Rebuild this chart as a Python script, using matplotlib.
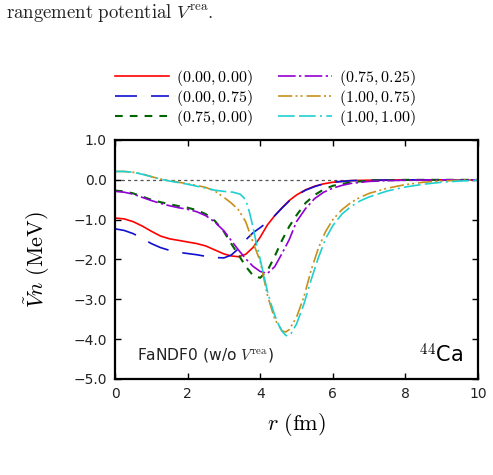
import matplotlib
matplotlib.use("Agg")
import matplotlib.pyplot as plt

plt.rcParams['mathtext.fontset'] = 'cm'
plt.rcParams['font.family'] = ['DejaVu Sans']

# ---------------- data ----------------
r_red = [0, 0.25, 0.5, 0.75, 1.0, 1.25, 1.5, 1.75, 2.0, 2.25, 2.5, 2.75, 3.0, 3.2, 3.4, 3.6, 3.8,
         4.0, 4.2, 4.4, 4.6, 4.8, 5.0, 5.25, 5.5, 5.75, 6.0, 6.5, 7.0, 8.0, 9.0, 10.0]
v_red = [-0.96, -0.98, -1.05, -1.16, -1.29, -1.41, -1.48, -1.52, -1.56, -1.60, -1.66, -1.76, -1.86,
         -1.91, -1.93, -1.87, -1.70, -1.44, -1.13, -0.90, -0.70, -0.52, -0.38, -0.25, -0.16, -0.10,
         -0.06, -0.02, -0.01, 0.0, 0.0, 0.0]

r_blue = [0, 0.25, 0.5, 0.75, 1.0, 1.25, 1.5, 1.75, 2.0, 2.25, 2.5, 2.75, 3.0, 3.2, 3.4, 3.6, 3.8,
          4.0, 4.2, 4.4, 4.6, 4.8, 5.0, 5.25, 5.5, 5.75, 6.0, 6.5, 7.0, 8.0, 9.0, 10.0]
v_blue = [-1.23, -1.27, -1.35, -1.47, -1.60, -1.70, -1.77, -1.82, -1.85, -1.88, -1.92, -1.95, -1.96,
          -1.89, -1.73, -1.51, -1.33, -1.20, -1.06, -0.90, -0.71, -0.53, -0.39, -0.26, -0.17, -0.10,
          -0.06, -0.02, -0.01, 0.0, 0.0, 0.0]

r_green = [0, 0.25, 0.5, 0.75, 1.0, 1.25, 1.5, 1.75, 2.0, 2.25, 2.5, 2.75, 3.0, 3.2, 3.4, 3.6, 3.8,
           4.0, 4.2, 4.4, 4.6, 4.8, 5.0, 5.25, 5.5, 5.75, 6.0, 6.5, 7.0, 7.5, 8.0, 10.0]
v_green = [-0.27, -0.29, -0.34, -0.42, -0.50, -0.56, -0.61, -0.66, -0.70, -0.76, -0.86, -1.03, -1.30,
           -1.60, -1.88, -2.17, -2.40, -2.46, -2.28, -1.92, -1.52, -1.17, -0.89, -0.58, -0.38, -0.24,
           -0.15, -0.06, -0.02, -0.01, 0.0, 0.0]

r_purple = [0, 0.25, 0.5, 0.75, 1.0, 1.25, 1.5, 1.75, 2.0, 2.25, 2.5, 2.75, 3.0, 3.2, 3.4, 3.6, 3.8,
            4.0, 4.2, 4.4, 4.6, 4.8, 5.0, 5.25, 5.5, 5.75, 6.0, 6.25, 6.5, 7.0, 7.5, 8.0, 9.0, 10.0]
v_purple = [-0.29, -0.31, -0.36, -0.44, -0.52, -0.59, -0.65, -0.70, -0.74, -0.80, -0.90, -1.06, -1.28,
            -1.52, -1.76, -1.98, -2.17, -2.30, -2.35, -2.18, -1.85, -1.50, -1.05, -0.72, -0.47, -0.31,
            -0.21, -0.14, -0.09, -0.04, -0.02, -0.01, 0.0, 0.0]

r_gold = [0, 0.25, 0.5, 0.75, 1.0, 1.25, 1.5, 1.75, 2.0, 2.25, 2.5, 2.75, 3.0, 3.2, 3.4, 3.6, 3.8,
          4.0, 4.2, 4.4, 4.6, 4.7, 4.8, 5.0, 5.2, 5.4, 5.6, 5.8, 6.0, 6.25, 6.5, 6.75, 7.0, 7.5,
          8.0, 8.5, 9.0, 9.5, 10.0]
v_gold = [0.21, 0.21, 0.19, 0.15, 0.08, 0.02, -0.02, -0.06, -0.10, -0.14, -0.19, -0.28, -0.44, -0.58,
          -0.75, -1.05, -1.56, -2.05, -2.90, -3.50, -3.79, -3.82, -3.76, -3.45, -2.95, -2.28, -1.72,
          -1.30, -1.00, -0.75, -0.57, -0.44, -0.34, -0.21, -0.12, -0.06, -0.03, -0.01, 0.0]

r_cyan = [0, 0.25, 0.5, 0.75, 1.0, 1.25, 1.5, 1.75, 2.0, 2.25, 2.5, 2.75, 3.0, 3.25, 3.45, 3.6, 3.7,
          3.8, 3.9, 4.0, 4.1, 4.2, 4.3, 4.4, 4.5, 4.6, 4.7, 4.75, 4.85, 5.0, 5.2, 5.4, 5.6, 5.8,
          6.0, 6.25, 6.5, 6.75, 7.0, 7.5, 8.0, 8.5, 9.0, 9.5, 10.0]
v_cyan = [0.21, 0.21, 0.19, 0.14, 0.08, 0.02, -0.03, -0.07, -0.11, -0.16, -0.21, -0.26, -0.29, -0.31,
          -0.36, -0.50, -0.80, -1.18, -1.62, -2.00, -2.40, -2.80, -3.12, -3.40, -3.62, -3.80, -3.90,
          -3.92, -3.86, -3.62, -3.13, -2.52, -1.96, -1.48, -1.15, -0.86, -0.67, -0.53, -0.43, -0.28,
          -0.18, -0.11, -0.06, -0.03, -0.01]

labels = [r'$(0.00, 0.00)$', r'$(0.00, 0.75)$', r'$(0.75, 0.00)$',
          r'$(0.75, 0.25)$', r'$(1.00, 0.75)$', r'$(1.00, 1.00)$']

xticks = [0, 2, 4, 6, 8, 10]
xtick_labels = ['0', '2', '4', '6', '8', '10']
yticks = [-5.0, -4.0, -3.0, -2.0, -1.0, 0.0, 1.0]
ytick_labels = ['\u22125.0', '\u22124.0', '\u22123.0', '\u22122.0', '\u22121.0', '0.0', '1.0']

# ---------------- figure ----------------
fig = plt.figure(figsize=(4.93, 4.75), dpi=100)
ax = fig.add_axes([115/493, 1 - 379/475, (478 - 115)/493, (379 - 140)/475])

lw = 1.2
series = [
    (r_red, v_red, 'red', None, lw),
    (r_blue, v_blue, '#1010d0', (13.2, 8.4), lw),
    (r_green, v_green, '#006400', (3.7, 3.4), 1.5),
    (r_purple, v_purple, '#9400d3', (10.6, 2.0, 1.4, 2.0), lw),
    (r_gold, v_gold, '#c8901a', (8.5, 2.0, 1.2, 1.8, 1.2, 2.4), lw),
    (r_cyan, v_cyan, '#20d0d0', (10.0, 2.6, 10.0, 2.6, 1.2, 2.6), lw),
]
handles = []
for (rr, vv, c, d, w), lab in zip(series, labels):
    line, = ax.plot(rr, vv, color=c, lw=w, label=lab)
    if d is not None:
        line.set_dashes(d)
    handles.append(line)

ax.axhline(0.0, color='#555555', lw=0.9, dashes=(2.5, 2.5), zorder=0)

ax.set_xlim(0, 10)
ax.set_ylim(-5, 1)
ax.set_xticks(xticks)
ax.set_xticklabels(xtick_labels)
ax.set_yticks(yticks)
ax.set_yticklabels(ytick_labels)
ax.tick_params(direction='in', top=True, right=True, length=4.5, width=1.0,
               labelsize=10, pad=6, colors='black', labelcolor='#222222')
for s in ax.spines.values():
    s.set_linewidth(1.6)

ax.set_xlabel(r'$r\ \mathrm{(fm)}$', fontsize=16, labelpad=7)
ax.set_ylabel(r'$\tilde{V}n\ \mathrm{(MeV)}$', fontsize=16, labelpad=15)

ax.text(0.06, 0.1, r'FaNDF0 (w/o $V^{\rm rea}$)', transform=ax.transAxes,
        fontsize=11.2, color='#222222', va='center', ha='left')
ax.text(0.96, 0.1, r'$^{44}$Ca', transform=ax.transAxes,
        fontsize=15, color='black', va='center', ha='right')

fig.legend(handles=handles, labels=labels, ncol=2, loc='upper left',
           bbox_to_anchor=(115/493, 1 - 68/475), frameon=False, fontsize=11.5,
           handlelength=3.38, handletextpad=0.45, columnspacing=1.55,
           labelspacing=0.0, borderpad=0, borderaxespad=0)

fig.text(6/493, 1 - 18/475, r'$\mathrm{rangement\ potential}\ V^{\mathrm{rea}}.$',
         fontsize=13.5, va='baseline', ha='left', color='#222222')

fig.savefig('out.png', dpi=100)
